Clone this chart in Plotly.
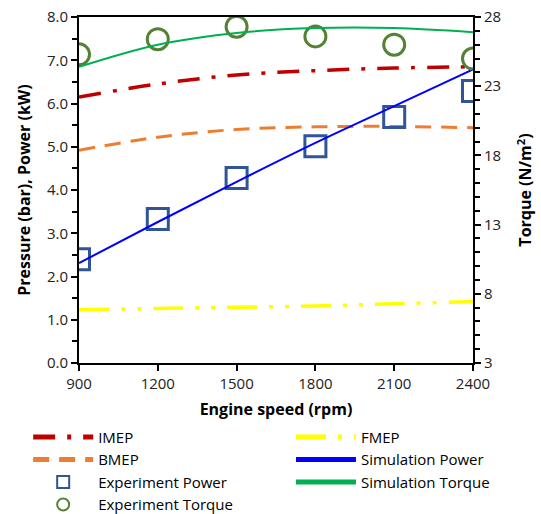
import plotly.graph_objects as go

speed = [900, 1200, 1500, 1800, 2100, 2400]
imep = [6.15, 6.45, 6.66, 6.76, 6.82, 6.85]
bmep = [4.92, 5.22, 5.40, 5.46, 5.47, 5.44]
fmep = [1.23, 1.26, 1.29, 1.32, 1.37, 1.42]
sim_power = [2.31, 3.26, 4.19, 5.09, 5.94, 6.79]
exp_power = [2.40, 3.33, 4.28, 5.01, 5.69, 6.29]
exp_torque = [25.3, 26.4, 27.3, 26.6, 26.0, 25.0]
sim_torque = [24.4, 26.0, 26.85, 27.2, 27.2, 26.9]

FONT = "Open Sans"
fig = go.Figure()
fig.add_trace(go.Scatter(x=speed, y=imep, name="IMEP", mode="lines", legend="legend", line=dict(color="#C00000", width=3.5, dash="22px,12px,4px,12px", shape="spline")))
fig.add_trace(go.Scatter(x=speed, y=bmep, name="BMEP", mode="lines", legend="legend", line=dict(color="#ED7D31", width=3, dash="16px,10px", shape="spline")))
fig.add_trace(go.Scatter(x=speed, y=exp_power, name="Experiment Power", mode="markers", legend="legend", marker=dict(symbol="square-open", size=21, color="#2F5597", line=dict(width=3))))
fig.add_trace(go.Scatter(x=speed, y=exp_torque, name="Experiment Torque", mode="markers", yaxis="y2", legend="legend", marker=dict(symbol="circle-open", size=21, color="#548235", line=dict(width=3))))
fig.add_trace(go.Scatter(x=speed, y=fmep, name="FMEP", mode="lines", legend="legend2", line=dict(color="#FFFF00", width=3.5, dash="30px,12px,4px,12px,4px,12px", shape="spline")))
fig.add_trace(go.Scatter(x=speed, y=sim_power, name="Simulation Power", mode="lines", legend="legend2", line=dict(color="#0000FF", width=2, shape="spline")))
fig.add_trace(go.Scatter(x=speed, y=sim_torque, name="Simulation Torque", mode="lines", yaxis="y2", legend="legend2", line=dict(color="#00B050", width=2, shape="spline")))

axis_common = dict(showgrid=False, zeroline=False, showline=True, linecolor="black", linewidth=2,
                   ticks="outside", tickcolor="black", tickwidth=2, ticklen=6,
                   tickfont=dict(family=FONT, size=15, color="#222"))
leg_common = dict(orientation="v", yanchor="top", xanchor="left", y=-0.167,
                  font=dict(family=FONT, size=15), bgcolor="rgba(0,0,0,0)",
                  itemwidth=60, itemsizing="constant", tracegroupgap=0)
fig.update_layout(
    width=541, height=514, plot_bgcolor="white", paper_bgcolor="white",
    margin=dict(l=79, r=68, t=17, b=151, autoexpand=False),
    font=dict(family=FONT, size=15, color="black"),
    xaxis=dict(range=[900, 2400], tickvals=speed, mirror=True,
               title=dict(text="<b>Engine speed (rpm)</b>", font=dict(family=FONT, size=16), standoff=12), **axis_common),
    yaxis=dict(range=[0, 8], dtick=1, tickformat=".1f",
               minor=dict(dtick=0.5, ticks="outside", ticklen=5, tickcolor="black", tickwidth=2),
               title=dict(text="<b>Pressure (bar), Power (kW)</b>", font=dict(family=FONT, size=16), standoff=12), **axis_common),
    yaxis2=dict(range=[3, 28], tickvals=[3, 8, 13, 18, 23, 28], overlaying="y", side="right",
                minor=dict(dtick=1, tick0=3, ticks="outside", ticklen=5, tickcolor="black", tickwidth=2),
                title=dict(text="<b>Torque (N/m<sup>2</sup>)</b>", font=dict(family=FONT, size=16), standoff=20), **axis_common),
    legend=dict(x=-0.129, **leg_common),
    legend2=dict(x=0.538, **leg_common),
    showlegend=True,
)
fig.write_html("out.html")
